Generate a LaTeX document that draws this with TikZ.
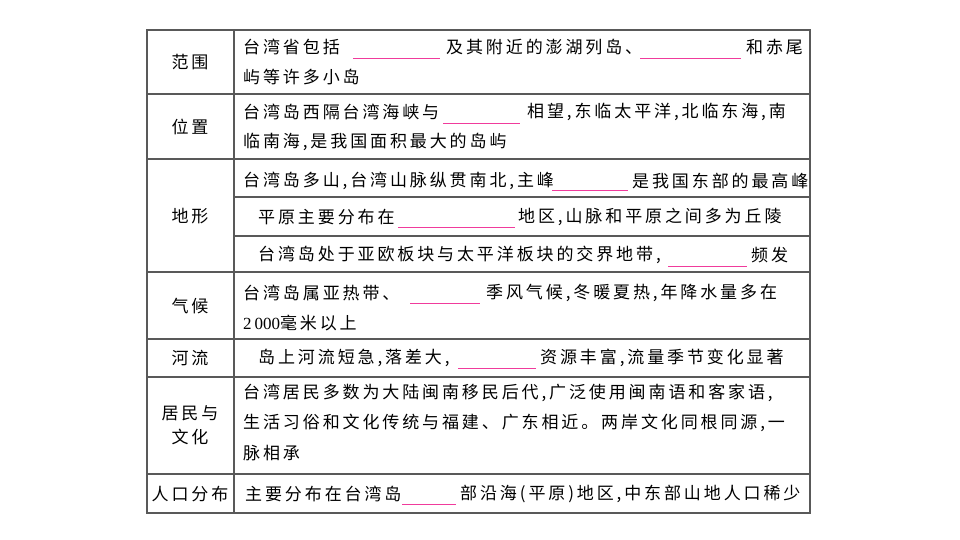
\documentclass[tikz,border=0pt]{standalone}
\usepackage{fontspec}
\setmainfont{Noto Sans CJK SC}[LetterSpace=17]
\XeTeXlinebreaklocale "zh"
\begin{document}
\begin{tikzpicture}[x=1pt,y=-1pt,
  t/.style={anchor=west,inner sep=0pt,font=\fontsize{17}{17}\selectfont},
  h/.style={inner sep=0pt,font=\fontsize{17}{20}\selectfont,align=center},
  bl/.style={draw=magenta!70!pink,line width=0.8pt},
  grid/.style={draw=black!65,line width=1.2pt}]
\useasboundingbox (0,0) rectangle (960,540);
\fill[white] (0,0) rectangle (960,540);
% frame
\draw[grid,line width=1.8pt] (147,30) rectangle (810,513);
\draw[grid] (234,30) -- (234,513);
\foreach \y in {94,159,272,339,377,474} \draw[grid] (147,\y) -- (810,\y);
\foreach \y in {197,236} \draw[grid] (234,\y) -- (810,\y);
% headers
\node[h] (h1) at (190,62) {范围};
\node[h] (h2) at (190,127) {位置};
\node[h] (h3) at (190,216) {地形};
\node[h] (h4) at (190,306) {气候};
\node[h] (h5) at (190,358) {河流};
\node[h] (h6) at (190,425) {居民与\\[4pt]文化};
\node[h] (h7) at (190,494) {人口分布};
% row1
\node[t] (a1) at (243,47) {台湾省包括};
\draw[bl] (353,58) -- (440,58);
\node[t] (a2) at (446,47) {及其附近的澎湖列岛、};
\draw[bl] (640,58) -- (741,58);
\node[t] (a3) at (746,47) {和赤尾};
\node[t] (a4) at (243,77) {屿等许多小岛};
% row2
\node[t] (b1) at (243,112) {台湾岛西隔台湾海峡与};
\draw[bl] (443,123) -- (520,123);
\node[t] (b2) at (527,112) {相望,东临太平洋,北临东海,南};
\node[t] (b3) at (243,142) {临南海,是我国面积最大的岛屿};
% row3
\node[t] (c1) at (243,181) {台湾岛多山,台湾山脉纵贯南北,主峰};
\draw[bl] (552,190) -- (628,190);
\node[t] (c2) at (632,181) {是我国东部的最高峰};
\node[t] (c3) at (258,217) {平原主要分布在};
\draw[bl] (398,227) -- (515,227);
\node[t] (c4) at (518,217) {地区,山脉和平原之间多为丘陵};
\node[t] (c5) at (258,255) {台湾岛处于亚欧板块与太平洋板块的交界地带,};
\draw[bl] (668,266) -- (747,266);
\node[t] (c6) at (751,255) {频发};
% row4
\node[t] (d1) at (243,293) {台湾岛属亚热带、};
\draw[bl] (410,303) -- (480,303);
\node[t] (d2) at (486,293) {季风气候,冬暖夏热,年降水量多在};
\node[t] (d3) at (243,323) {{\fontspec{Liberation Serif}[LetterSpace=0]2\,000}毫米以上};
% row5
\node[t] (e1) at (258,358) {岛上河流短急,落差大,};
\draw[bl] (458,368) -- (536,368);
\node[t] (e2) at (540,358) {资源丰富,流量季节变化显著};
% row6
\node[t] (f1) at (243,393) {台湾居民多数为大陆闽南移民后代,广泛使用闽南语和客家语,};
\node[t] (f2) at (243,423) {生活习俗和文化传统与福建、广东相近。两岸文化同根同源,一};
\node[t] (f3) at (243,453) {脉相承};
% row7
\node[t] (g1) at (245,494) {主要分布在台湾岛};
\draw[bl] (402,504) -- (456,504);
\node[t] (g2) at (460,494) {部沿海(平原)地区,中东部山地人口稀少};
\end{tikzpicture}
\end{document}
